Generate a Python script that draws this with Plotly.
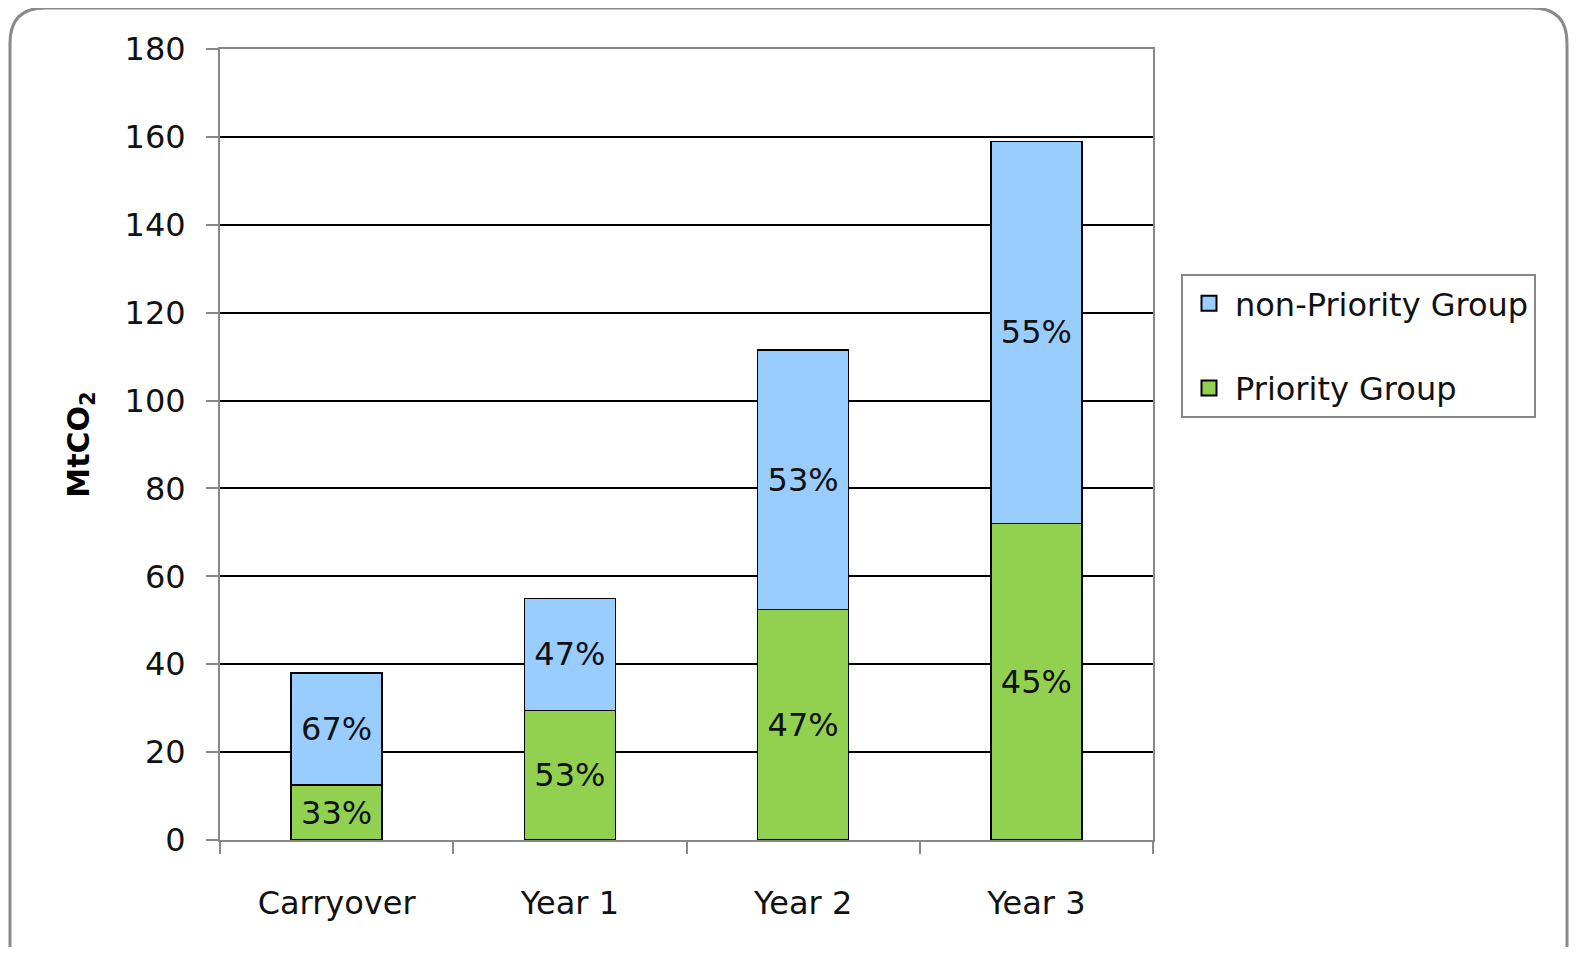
import plotly.graph_objects as go

categories = ["Carryover", "Year 1", "Year 2", "Year 3"]
priority = [12.5, 29.5, 52.5, 72.0]
non_priority = [25.5, 25.5, 59.0, 87.0]
priority_labels = ["33%", "53%", "47%", "45%"]
non_priority_labels = ["67%", "47%", "53%", "55%"]
y_ticks = [0, 20, 40, 60, 80, 100, 120, 140, 160, 180]

FONT = "DejaVu Sans"
GREEN = "#92D050"
BLUE = "#99CCFF"

fig = go.Figure()
fig.add_trace(go.Bar(
    x=categories, y=priority, name="Priority Group",
    text=priority_labels, textposition="inside", insidetextanchor="middle",
    textfont=dict(family=FONT, size=32, color="#111"),
    marker=dict(color=GREEN, line=dict(color="#000", width=1.5)),
    showlegend=False,
))
fig.add_trace(go.Bar(
    x=categories, y=non_priority, name="non-Priority Group",
    text=non_priority_labels, textposition="inside", insidetextanchor="middle",
    textfont=dict(family=FONT, size=32, color="#111"),
    marker=dict(color=BLUE, line=dict(color="#000", width=1.5)),
    showlegend=False,
))
# legend entries (square swatches like the reference)
fig.add_trace(go.Scatter(
    x=[None], y=[None], mode="markers", name="non-Priority Group",
    marker=dict(symbol="square", size=15, color=BLUE, line=dict(color="#000", width=2)),
    legendgroup="np", legendrank=1,
))
fig.add_trace(go.Scatter(
    x=[None], y=[None], mode="markers", name="Priority Group",
    marker=dict(symbol="square", size=15, color=GREEN, line=dict(color="#000", width=2)),
    legendgroup="p", legendrank=2,
))

# browser body margin offset (8px each side)
OFF = 8
W, H = 1577 - OFF, 955 - 2 * OFF
# plot area in screen pixels
L, R, T, B = 220, 1153, 49, 840

def px(x):
    return (x - L) / (R - L)

def py(y):
    return (B - y) / (B - T)

x0, x1, y0, y1 = px(10), px(1567), py(8), py(990)
rx, ry = 35 / (R - L), 35 / (B - T)
path = (f"M {x0+rx},{y0} L {x1-rx},{y0} Q {x1},{y0} {x1},{y0-ry} "
        f"L {x1},{y1+ry} Q {x1},{y1} {x1-rx},{y1} L {x0+rx},{y1} "
        f"Q {x0},{y1} {x0},{y1+ry} L {x0},{y0-ry} Q {x0},{y0} {x0+rx},{y0} Z")

fig.update_layout(
    width=W, height=H,
    margin=dict(l=L - OFF, r=W - (R - OFF), t=T - OFF, b=H - (B - OFF)),
    paper_bgcolor="white", plot_bgcolor="white",
    barmode="stack", bargap=0.61,
    font=dict(family=FONT, size=32, color="#111"),
    showlegend=True,
    legend=dict(
        x=px(1181), y=py(274), xanchor="left", yanchor="top",
        traceorder="grouped", tracegroupgap=40,
        bordercolor="#888", borderwidth=2, bgcolor="white",
        font=dict(family=FONT, size=32, color="#111"),
        itemwidth=42,
    ),
    shapes=[dict(type="path", path=path, xref="paper", yref="paper",
                 line=dict(color="#8a8a8a", width=3), layer="below")],
)
fig.update_xaxes(
    showline=True, linecolor="#888", linewidth=2, mirror=True,
    ticks="outside", tickson="boundaries", ticklen=12, tickcolor="#888", tickwidth=2,
    tickfont=dict(family=FONT, size=32, color="#111"),
    ticklabelstandoff=34,
    showgrid=False,
)
fig.update_yaxes(
    range=[0, 180], tickvals=y_ticks,
    showline=True, linecolor="#888", linewidth=2, mirror=True,
    ticks="outside", ticklen=12, tickcolor="#888", tickwidth=2,
    tickfont=dict(family=FONT, size=32, color="#111"),
    ticklabelstandoff=14,
    showgrid=True, gridcolor="#000", gridwidth=1.5, zeroline=False,
    title=dict(text="<b>MtCO<sub>2</sub></b>", font=dict(family=FONT, size=30, color="#000"), standoff=26),
)

fig.write_html("out.html")
